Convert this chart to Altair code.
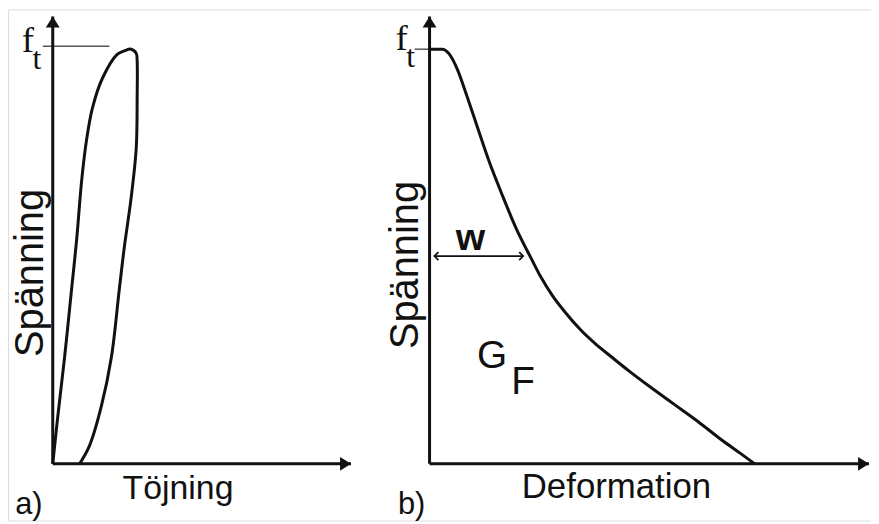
import altair as alt
import pandas as pd

# ---------------- data (stress normalised so that f_t = 1) ----------------
# panel a) stress-strain loop
a_strain = [0.0, 0.017, 0.04, 0.063, 0.08, 0.097, 0.113, 0.133, 0.167, 0.217, 0.24, 0.263,
            0.28, 0.283, 0.283, 0.28, 0.263, 0.24, 0.223, 0.197, 0.163, 0.123, 0.09]
a_stress = [0.0, 0.114, 0.257, 0.417, 0.536, 0.679, 0.774, 0.852, 0.924, 0.981, 0.989, 0.993,
            0.983, 0.964, 0.876, 0.757, 0.638, 0.519, 0.417, 0.257, 0.138, 0.043, 0.0]

# panel b) softening curve stress vs deformation
b_def = [0.0, 0.029, 0.045, 0.063, 0.085, 0.108, 0.135, 0.164, 0.197, 0.231, 0.253,
         0.280, 0.309, 0.343, 0.377, 0.415, 0.455, 0.500, 0.556, 0.612, 0.668, 0.709, 0.740]
b_stress = [1.0, 1.0, 0.988, 0.952, 0.887, 0.815, 0.731, 0.652, 0.568, 0.496, 0.451,
            0.405, 0.365, 0.324, 0.290, 0.257, 0.223, 0.187, 0.144, 0.101, 0.055, 0.024, 0.0]

ft = 1.0
a_ft_x = [-0.033, 0.19]
b_ft_x = [-0.034, 0.0]
a_top = 1.0714
b_top = 1.079
w_x = [0.011, 0.213]
w_y = 0.501

INK = "#111111"
FONT = "Liberation Sans"

UP = "M0,0L-0.7,1.1L0.7,1.1Z"
RIGHT = "M0,0L-1.1,-0.7L-1.1,0.7Z"
CHEV_R = "M-1,-1L0,0L-1,1"
CHEV_L = "M1,-1L0,0L1,1"


def panel(xs, ys, xrange, ytop, ft_x, interp, extra=None):
    xsc = alt.Scale(domain=[0, 1], range=xrange, nice=False, zero=False)
    ysc = alt.Scale(domain=[0, ytop], range=[457, 7], nice=False, zero=False)
    X = lambda f: alt.X(f, type="quantitative", scale=xsc, axis=None)
    Y = lambda f: alt.Y(f, type="quantitative", scale=ysc, axis=None)

    curve_df = pd.DataFrame({"x": xs, "y": ys, "o": list(range(len(xs)))})
    curve = alt.Chart(curve_df).mark_line(
        color=INK, strokeWidth=3, interpolate=interp
    ).encode(x=X("x"), y=Y("y"), order="o:Q")

    axes_df = pd.DataFrame({"x": [0, 0], "y": [0, 0], "x2": [1, 0], "y2": [0, ytop]})
    axes = alt.Chart(axes_df).mark_rule(color=INK, strokeWidth=3).encode(
        x=X("x"), y=Y("y"), x2="x2:Q", y2="y2:Q"
    )

    up = alt.Chart(pd.DataFrame({"x": [0], "y": [ytop]})).mark_point(
        shape=UP, size=400, filled=True, color=INK, opacity=1, strokeWidth=0
    ).encode(x=X("x"), y=Y("y"))
    right = alt.Chart(pd.DataFrame({"x": [1], "y": [0]})).mark_point(
        shape=RIGHT, size=400, filled=True, color=INK, opacity=1, strokeWidth=0
    ).encode(x=X("x"), y=Y("y"))

    ftdf = pd.DataFrame({"x": [ft_x[0]], "x2": [ft_x[1]], "y": [ft]})
    ftline = alt.Chart(ftdf).mark_rule(color="#555555", strokeWidth=1.5).encode(
        x=X("x"), x2="x2:Q", y=Y("y")
    )

    layers = [ftline, axes, up, right, curve]

    if extra:
        wdf = pd.DataFrame({"x": [w_x[0]], "x2": [w_x[1]], "y": [w_y]})
        wline = alt.Chart(wdf).mark_rule(color=INK, strokeWidth=1.6).encode(
            x=X("x"), x2="x2:Q", y=Y("y")
        )
        wl = alt.Chart(pd.DataFrame({"x": [w_x[0]], "y": [w_y]})).mark_point(
            shape=CHEV_L, size=64, filled=False, color=INK, strokeWidth=1.8, opacity=1
        ).encode(x=X("x"), y=Y("y"))
        wr = alt.Chart(pd.DataFrame({"x": [w_x[1]], "y": [w_y]})).mark_point(
            shape=CHEV_R, size=64, filled=False, color=INK, strokeWidth=1.8, opacity=1
        ).encode(x=X("x"), y=Y("y"))
        layers += [wline, wl, wr]
    return alt.layer(*layers)


def label(txt, x, y, size, angle=0, font=FONT, align="center", weight="normal"):
    kw = dict(fontSize=size, font=font, color=INK, align=align,
              baseline="alphabetic", fontWeight=weight)
    if angle:
        kw["angle"] = angle
    return alt.Chart(pd.DataFrame({"t": [txt]})).mark_text(**kw).encode(
        x=alt.value(x), y=alt.value(y), text="t:N"
    )


pa = panel(a_strain, a_stress, [45, 345], a_top, a_ft_x, "catmull-rom")
pb = panel(b_def, b_stress, [424, 866], b_top, b_ft_x, "monotone", extra=True)

texts = [
    label("Spänning", 35, 265, 40, angle=270),
    label("Spänning", 412, 257, 40, angle=270),
    label("Töjning", 171, 492, 34),
    label("Deformation", 612, 491, 35),
    label("a)", 21, 507, 31),
    label("b)", 406, 507, 31),
    label("f", 20, 43, 37, font="Liberation Serif"),
    label("t", 29, 60, 32, font="Liberation Serif"),
    label("f", 396, 41, 37, font="Liberation Serif"),
    label("t", 405, 58, 32, font="Liberation Serif"),
    label("w", 465, 242, 38, weight="bold"),
    label("G", 487, 361, 39),
    label("F", 518, 387, 39),
]

chart = alt.layer(pa, pb, *texts).resolve_scale(
    x="independent", y="independent"
).properties(
    width=868, height=514, autosize=alt.AutoSizeParams(type="none"), padding=0
).configure_view(stroke=None).configure(background="white")

chart.save("out.html", embed_options={"renderer": "svg", "actions": False})
